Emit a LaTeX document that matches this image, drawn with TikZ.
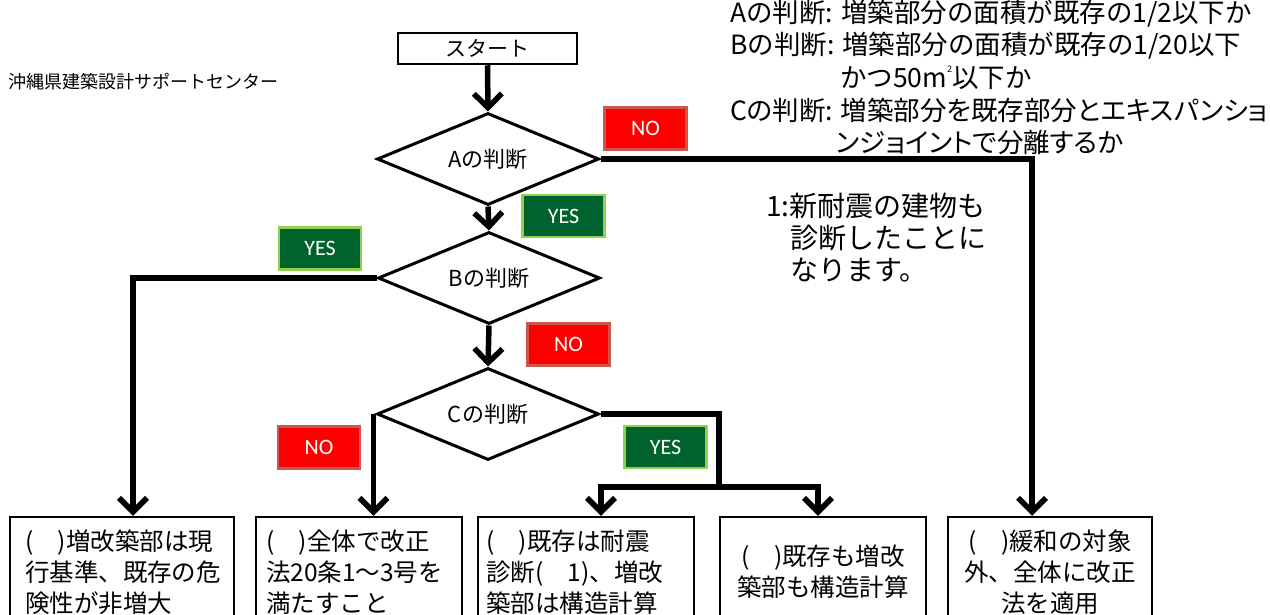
\documentclass[tikz,border=0pt]{standalone}
\usepackage{fontspec}
\usetikzlibrary{shapes.geometric,arrows.meta}
\newfontfamily\jp{Noto Sans CJK JP}
\newfontfamily\jpp[RawFeature=+palt]{Noto Sans CJK JP}
\newfontfamily\lblfont{Carlito}
\definecolor{nofill}{HTML}{FF0000}
\definecolor{noedge}{HTML}{C8584B}
\definecolor{yesfill}{HTML}{00622D}
\definecolor{yesedge}{HTML}{92D050}
\begin{document}
\begin{tikzpicture}[x=1pt,y=-1pt,
  conn/.style={line width=5.5pt,-{Straight Barb[length=14pt,width=28pt]}},
  dec/.style={draw,shape=diamond,line width=3pt,minimum width=222pt,minimum height=92pt,
    inner sep=0pt,aspect=2.4,font=\jp\fontsize{22}{26}\selectfont},
  startbox/.style={draw,line width=2.5pt,minimum width=179pt,minimum height=31pt,inner sep=0pt,
    font=\jp\fontsize{21}{24}\selectfont},
  nolab/.style={draw=noedge,fill=nofill,line width=2.5pt,minimum width=82pt,minimum height=42pt,
    inner sep=0pt,text=white,font=\lblfont\fontsize{22}{24}\selectfont},
  yeslab/.style={draw=yesedge,fill=yesfill,line width=2.5pt,minimum width=82pt,minimum height=42pt,
    inner sep=0pt,text=white,font=\lblfont\fontsize{22}{24}\selectfont},
  res/.style={draw,line width=2.5pt,minimum height=110pt,inner ysep=0pt,
    font=\jp\fontsize{24.5}{31}\selectfont},
  legend/.style={anchor=west,inner sep=0pt,font=\jp\fontsize{26.5}{32}\selectfont},
  legendp/.style={anchor=west,inner sep=0pt,font=\jpp\fontsize{26.5}{32}\selectfont},
  note/.style={anchor=north west,inner sep=0pt,align=left,font=\jp\fontsize{28}{32}\selectfont},
  titletext/.style={anchor=west,inner sep=0pt,font=\jp\fontsize{18}{22}\selectfont}
]
\useasboundingbox (0,0) rectangle (1270,614);
\clip (0,0) rectangle (1270,614);

% title and legend
\node[titletext] (title) at (8,82) {沖縄県建築設計サポートセンター};
\node[legend] (l1) at (730,14) {Aの判断: 増築部分の面積が既存の1/2以下か};
\node[legend] (l2) at (730,46) {Bの判断: 増築部分の面積が既存の1/20以下};
\node[legend] (l3) at (840,78) {かつ50m\raisebox{0.55em}{\fontsize{9}{9}\selectfont 2}以下か};
\node[legendp] (l4) at (730,110) {Cの判断: 増築部分を既存部分とエキスパンショ};
\node[legendp] (l5) at (836,142) {ンジョイントで分離するか};

\node[note] (nt) at (766,193) {1:新耐震の建物も\\\hspace*{24pt}診断したことに\\\hspace*{24pt}なります。};

% flow nodes
\node[startbox] (st) at (487.5,48.5) {スタート};
\node[dec] (A) at (488,159) {Aの判断};
\node[dec] (B) at (489,278) {Bの判断};
\node[dec] (C) at (488,414) {Cの判断};

\node[res,minimum width=224pt,text width=194pt,inner xsep=14pt,align=left] (r1) at (122,572)
  {(　)増改築部は現\\行基準、既存の危\\険性が非増大};
\node[res,minimum width=206pt,text width=186pt,inner xsep=10pt,align=left] (r2) at (359,572)
  {(　)全体で改正\\法20条1～3号を\\満たすこと};
\node[res,minimum width=216pt,text width=200pt,inner xsep=8pt,align=left] (r3) at (586,572)
  {(　)既存は耐震\\診断(　1)、増改\\築部は構造計算};
\node[res,minimum width=206pt,text width=190pt,inner xsep=8pt,align=center] (r4) at (823,572)
  {(　)既存も増改\\築部も構造計算};
\node[res,minimum width=204pt,text width=188pt,inner xsep=8pt,align=center] (r5) at (1050,572)
  {(　)緩和の対象\\外、全体に改正\\法を適用};

% labels
\node[nolab] (no1) at (645.5,128.5) {NO};
\node[yeslab] (yes1) at (563.5,216) {YES};
\node[yeslab] (yes2) at (320,248.5) {YES};
\node[nolab] (no2) at (568.5,344.5) {NO};
\node[nolab] (no3) at (319,447.5) {NO};
\node[yeslab] (yes3) at (665.5,447) {YES};

% connectors
\draw[conn] (st.south) -- (A.north);
\draw[conn] (A.south) -- (B.north);
\draw[conn] (B.south) -- (C.north);
\draw[conn] (A.east) -| ([xshift=-18pt]r5.north);
\draw[conn] (B.west) -| ([xshift=11pt]r1.north);
\draw[conn] ([xshift=-2pt]C.west) -- ([xshift=-2pt]C.west |- r2.north);
\coordinate (j) at (719,487);
\draw[conn] (C.east) -| (j) -| ([xshift=15pt]r3.north);
\draw[conn] (j) -| ([xshift=-5pt]r4.north);
\end{tikzpicture}
\end{document}
